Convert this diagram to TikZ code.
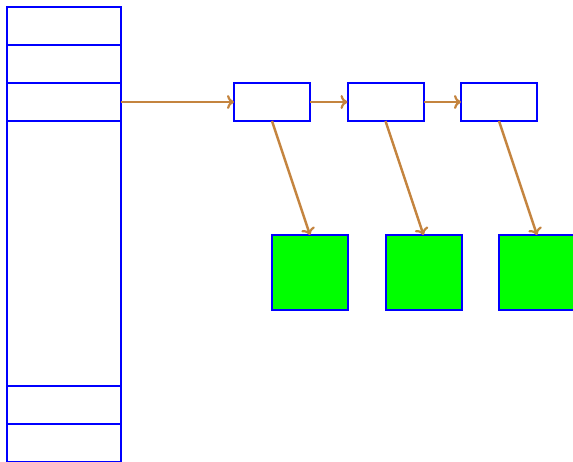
\documentclass[tikz,border=0pt]{standalone}
\usetikzlibrary{arrows.meta}
\definecolor{bl}{HTML}{0000FF}
\definecolor{gr}{HTML}{00FF00}
\definecolor{br}{HTML}{C4843F}
\begin{document}
\begin{tikzpicture}[x=1pt,y=-1pt,
  cell/.style={draw=bl,line width=2pt,fill=white,inner sep=0pt,outer sep=0pt,minimum width=114pt},
  ptr/.style={draw=bl,line width=2pt,fill=white,inner sep=0pt,outer sep=0pt,minimum width=76pt,minimum height=38pt},
  obj/.style={draw=bl,line width=2pt,fill=gr,inner sep=0pt,outer sep=0pt,minimum width=76pt,minimum height=75pt},
  link/.style={draw=br,line width=2.5pt,-{To[length=7pt,width=14pt,line width=2.2pt]}}]
\useasboundingbox (0,0) rectangle (573,461);
\node[cell,minimum height=38pt] (c1) at (64,26) {};
\node[cell,minimum height=38pt] (c2) at (64,64) {};
\node[cell,minimum height=38pt] (c3) at (64,102) {};
\node[cell,minimum height=265pt] (c4) at (64,253.5) {};
\node[cell,minimum height=38pt] (c5) at (64,405) {};
\node[cell,minimum height=38pt] (c6) at (64,443) {};
\node[ptr] (p1) at (272,102) {};
\node[ptr] (p2) at (385.5,102) {};
\node[ptr] (p3) at (499,102) {};
\node[obj] (o1) at (310,272.5) {};
\node[obj] (o2) at (423.5,272.5) {};
\node[obj] (o3) at (537,272.5) {};
\draw[link] (c3.east) -- (p1.west);
\draw[link] (p1.east) -- (p2.west);
\draw[link] (p2.east) -- (p3.west);
\draw[link] (p1.south) -- (o1.north);
\draw[link] (p2.south) -- (o2.north);
\draw[link] (p3.south) -- (o3.north);
\end{tikzpicture}
\end{document}
